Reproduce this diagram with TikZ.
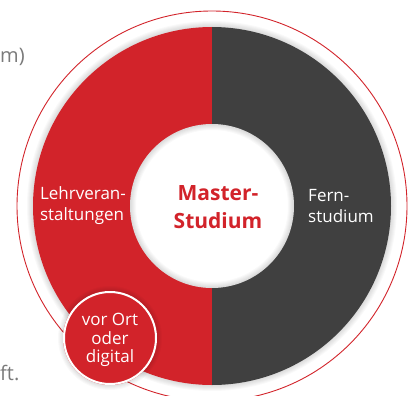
\documentclass[tikz,border=0pt]{standalone}
\usepackage{fontspec}
\setmainfont{Open Sans}
\usetikzlibrary{positioning}
\definecolor{hsred}{HTML}{D2232A}
\definecolor{hsgrey}{HTML}{404040}
\definecolor{hstext}{HTML}{7A7A7A}
\begin{document}
\begin{tikzpicture}[x=1pt,y=-1pt,
  ringtext/.style={text=white,font=\fontsize{17}{21}\selectfont,align=left,inner sep=0pt},
  titletext/.style={text=hsred,font=\bfseries\fontsize{21}{28}\selectfont,align=center,inner sep=0pt},
  sidetext/.style={text=hstext,font=\fontsize{20}{24}\selectfont,inner sep=0pt},
  shade ring/.style={black,opacity=0.025}]
  \useasboundingbox (0,0) rectangle (415,396);
  \coordinate (c) at (212,206);
  \coordinate (s) at (110,338);
  % Side texts (cut off)
  \node[sidetext,anchor=base west] (tm) at (0,63) {m)};
  \node[sidetext,anchor=base west] (tf) at (0,380) {ft.};
  % Thin outer circle
  \draw[hsred,line width=0.9pt] (c) circle (195);
  % Shadow of the ring
  \foreach \w in {2,4,...,12}
    \draw[shade ring,line width=\w pt] (c) circle (179);
  % Ring halves
  \fill[hsred] (212,385) arc (90:270:179) -- cycle;
  \fill[hsgrey] (212,385) arc (90:-90:179) -- cycle;
  % Hole
  \fill[white] (c) circle (82);
  \begin{scope}
    \clip (c) circle (82);
    \foreach \w in {2,4,...,12}
      \draw[shade ring,line width=\w pt] (c) circle (82);
  \end{scope}
  % Small circle
  \foreach \w in {2,4,...,10}
    \draw[shade ring,line width=\w pt] (s) circle (47);
  \fill[hsred] (s) circle (47);
  \draw[white,line width=2pt] (s) circle (46);
  % Labels
  \node[titletext] (master) at (218,207) {Master-\\Studium};
  \node[ringtext] (lehr) at (83,206) {Lehrveran-\\staltungen};
  \node[ringtext] (fern) at (341,206) {Fern-\\studium};
  \node[ringtext,align=center,font=\fontsize{17}{18.5}\selectfont] (ort) at (110,340) {vor Ort\\oder\\digital};
\end{tikzpicture}
\end{document}
